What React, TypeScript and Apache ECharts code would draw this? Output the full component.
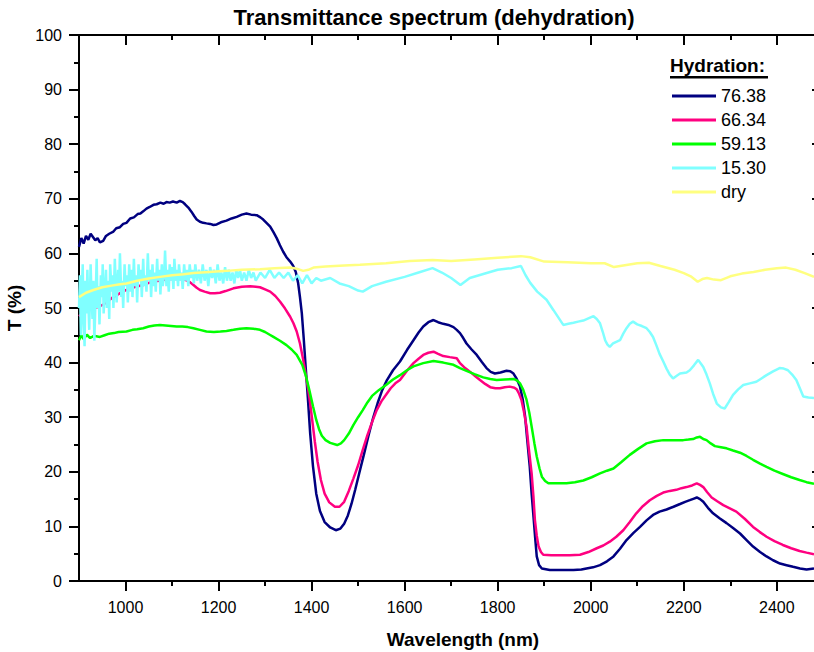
import React, { useEffect, useRef } from "react";
import * as echarts from "echarts";

const TITLE = "Transmittance spectrum (dehydration)";
const X_NAME = "Wavelength (nm)";
const Y_NAME = "T (%)";
const LEGEND_TITLE = "Hydration:";

const X_MIN = 900;
const X_MAX = 2480;
const X_MAJOR = [1000, 1200, 1400, 1600, 1800, 2000, 2200, 2400];
const X_MINOR = [1100, 1300, 1500, 1700, 1900, 2100, 2300];

const seriesNames = ["76.38", "66.34", "59.13", "15.30", "dry"];
const seriesColors = ["#000080", "#ff0080", "#00ff00", "#80ffff", "#ffff80"];

const hyd7638: [number, number][] = [
  [900, 61.2], [905, 62.8], [910, 61.8], [915, 63.2], [920, 62.5], [925, 63.6], [930, 63.0], [935, 62.4],
  [940, 62.8], [945, 62.0], [952, 62.3], [958, 63.2], [965, 63.6], [974, 64.0], [980, 64.6], [988, 64.8],
  [995, 65.4], [1002, 65.6], [1010, 66.4], [1018, 66.6], [1026, 67.2], [1032, 67.3], [1038, 67.7], [1045, 68.2],
  [1052, 68.5], [1060, 68.9], [1067, 69.0], [1075, 69.3], [1082, 69.1], [1088, 69.4], [1095, 69.3], [1102, 69.5],
  [1110, 69.3], [1117, 69.6], [1123, 69.4], [1128, 69.0], [1135, 68.4], [1142, 67.6], [1148, 66.8], [1153, 66.2],
  [1160, 65.8], [1167, 65.6], [1174, 65.5], [1182, 65.4], [1189, 65.2], [1196, 65.3], [1205, 65.7], [1217, 66.0],
  [1228, 66.4], [1239, 66.7], [1250, 67.1], [1260, 67.3], [1270, 67.1], [1282, 67.0], [1290, 66.6], [1296, 66.2],
  [1303, 65.6], [1311, 64.9], [1318, 63.9], [1325, 62.8], [1332, 61.5], [1339, 60.3], [1346, 59.3], [1354, 58.5],
  [1360, 57.8], [1366, 56.6], [1371, 54.6], [1375, 52.0], [1379, 49.0], [1383, 44.5], [1387, 39.5], [1392, 33.5],
  [1397, 27.0], [1403, 21.0], [1410, 16.0], [1418, 12.8], [1428, 10.8], [1440, 9.8], [1452, 9.3], [1462, 9.6],
  [1470, 10.5], [1478, 12.0], [1486, 14.2], [1494, 16.8], [1502, 19.6], [1512, 23.0], [1522, 26.5], [1532, 29.8],
  [1542, 32.6], [1552, 35.0], [1562, 36.8], [1575, 38.6], [1590, 40.2], [1605, 42.3], [1619, 44.1], [1630, 45.5],
  [1640, 46.6], [1651, 47.4], [1662, 47.8], [1672, 47.4], [1683, 47.1], [1694, 46.9], [1705, 46.5], [1712, 46.0],
  [1719, 45.4], [1726, 44.5], [1733, 43.5], [1744, 42.4], [1755, 41.4], [1766, 40.1], [1776, 39.0], [1785, 38.3],
  [1794, 38.0], [1806, 38.2], [1819, 38.5], [1827, 38.4], [1834, 38.0], [1841, 37.0], [1848, 35.6], [1854, 33.2],
  [1859, 30.1], [1864, 25.5], [1869, 20.9], [1873, 16.0], [1877, 11.8], [1881, 7.5], [1884, 4.5], [1889, 2.9],
  [1895, 2.3], [1912, 2.0], [1940, 2.0], [1963, 2.0], [1980, 2.1], [1991, 2.3], [2005, 2.5], [2020, 2.9],
  [2035, 3.6], [2049, 4.5], [2063, 5.9], [2077, 7.5], [2092, 8.8], [2106, 9.9], [2120, 11.1], [2134, 12.1],
  [2148, 12.7], [2163, 13.1], [2178, 13.6], [2192, 14.1], [2203, 14.5], [2213, 14.8], [2222, 15.1], [2228, 15.3],
  [2235, 15.0], [2242, 14.5], [2252, 13.4], [2263, 12.4], [2277, 11.5], [2292, 10.6], [2306, 9.7], [2321, 8.7],
  [2335, 7.5], [2349, 6.3], [2364, 5.3], [2378, 4.5], [2392, 3.8], [2407, 3.2], [2421, 2.9], [2435, 2.6],
  [2450, 2.3], [2464, 2.1], [2480, 2.3],
];

const hyd6634: [number, number][] = [
  [900, 48.5], [910, 49.2], [920, 49.6], [930, 50.0], [941, 50.2], [952, 50.6], [962, 51.3], [972, 51.9],
  [982, 52.4], [992, 52.9], [1002, 53.3], [1015, 53.7], [1026, 54.0], [1038, 54.2], [1050, 54.6], [1062, 54.9],
  [1074, 55.0], [1086, 55.2], [1098, 55.3], [1110, 55.3], [1120, 55.3], [1131, 55.1], [1139, 54.7], [1146, 54.2],
  [1153, 53.7], [1160, 53.3], [1170, 53.0], [1182, 52.7], [1192, 52.7], [1203, 52.8], [1215, 53.1], [1232, 53.6],
  [1250, 53.9], [1268, 54.0], [1280, 53.9], [1289, 53.8], [1300, 53.4], [1311, 53.0], [1322, 52.2], [1332, 51.2],
  [1343, 49.9], [1354, 48.4], [1361, 47.2], [1368, 45.7], [1375, 43.5], [1382, 40.5], [1387, 38.0], [1392, 35.5],
  [1397, 32.5], [1402, 29.0], [1407, 25.5], [1413, 21.8], [1420, 18.5], [1428, 16.0], [1438, 14.4], [1450, 13.6],
  [1460, 13.6], [1470, 14.5], [1480, 16.5], [1490, 18.8], [1500, 21.2], [1510, 24.0], [1520, 26.7], [1530, 29.1],
  [1540, 31.3], [1550, 32.9], [1560, 34.1], [1570, 35.3], [1580, 36.2], [1590, 36.8], [1605, 38.5], [1619, 39.9],
  [1630, 40.7], [1640, 41.4], [1651, 41.8], [1662, 42.0], [1672, 41.6], [1683, 41.2], [1697, 41.0], [1712, 40.8],
  [1719, 39.9], [1730, 39.0], [1741, 38.3], [1752, 37.5], [1762, 36.8], [1773, 36.1], [1784, 35.5], [1795, 35.3],
  [1805, 35.3], [1815, 35.5], [1826, 35.6], [1836, 35.4], [1841, 35.1], [1846, 34.3], [1851, 33.2], [1856, 31.2],
  [1862, 28.3], [1867, 24.2], [1873, 19.7], [1877, 15.3], [1880, 11.2], [1884, 8.3], [1888, 6.3], [1893, 5.3],
  [1898, 4.8], [1915, 4.7], [1934, 4.7], [1955, 4.7], [1977, 4.8], [1995, 5.3], [2013, 6.0], [2027, 6.5],
  [2041, 7.2], [2055, 8.1], [2070, 9.3], [2084, 10.8], [2098, 12.4], [2112, 13.7], [2127, 14.8], [2142, 15.6],
  [2156, 16.2], [2170, 16.5], [2184, 16.7], [2195, 17.0], [2206, 17.2], [2218, 17.5], [2228, 17.9], [2235, 17.6],
  [2242, 17.2], [2250, 16.3], [2260, 15.3], [2272, 14.6], [2285, 13.9], [2299, 13.3], [2313, 12.7], [2331, 11.4],
  [2349, 9.9], [2363, 9.0], [2378, 8.1], [2395, 7.3], [2413, 6.6], [2431, 6.0], [2449, 5.5], [2464, 5.2],
  [2480, 4.9],
];

const hyd5913: [number, number][] = [
  [900, 44.1], [905, 45.0], [910, 44.3], [917, 45.1], [924, 44.5], [932, 44.9], [945, 44.7], [955, 45.0],
  [965, 45.3], [975, 45.4], [985, 45.6], [1002, 45.7], [1015, 46.0], [1025, 46.1], [1038, 46.3], [1050, 46.6],
  [1062, 46.8], [1074, 46.9], [1086, 46.8], [1098, 46.7], [1110, 46.6], [1122, 46.6], [1134, 46.5], [1146, 46.3],
  [1160, 46.0], [1174, 45.7], [1190, 45.6], [1204, 45.7], [1217, 45.8], [1232, 46.0], [1246, 46.2], [1260, 46.3],
  [1275, 46.2], [1289, 46.0], [1300, 45.6], [1310, 45.1], [1318, 44.7], [1332, 44.0], [1346, 43.2], [1357, 42.4],
  [1368, 41.4], [1380, 39.6], [1388, 37.5], [1395, 35.0], [1403, 32.0], [1410, 29.5], [1416, 27.8], [1422, 26.6],
  [1430, 25.8], [1440, 25.3], [1455, 24.9], [1463, 25.2], [1470, 25.8], [1480, 27.0], [1490, 28.6], [1500, 30.0],
  [1510, 31.3], [1520, 32.7], [1530, 33.9], [1545, 35.0], [1560, 35.9], [1575, 36.9], [1590, 37.7], [1605, 38.6],
  [1619, 39.3], [1640, 39.9], [1662, 40.3], [1683, 40.0], [1705, 39.6], [1719, 39.0], [1733, 38.5], [1750, 37.9],
  [1769, 37.3], [1784, 37.0], [1798, 36.8], [1815, 36.9], [1834, 37.0], [1842, 36.7], [1848, 36.2], [1855, 35.0],
  [1862, 33.2], [1868, 30.8], [1873, 28.3], [1879, 25.2], [1884, 22.8], [1890, 20.6], [1895, 19.1], [1902, 18.3],
  [1909, 17.9], [1930, 17.9], [1948, 17.9], [1966, 18.1], [1984, 18.4], [2002, 19.0], [2020, 19.7], [2035, 20.2],
  [2049, 20.6], [2066, 21.8], [2084, 23.1], [2102, 24.2], [2120, 25.2], [2138, 25.6], [2156, 25.8], [2177, 25.8],
  [2199, 25.8], [2210, 25.9], [2220, 26.0], [2228, 26.3], [2235, 26.4], [2242, 26.0], [2249, 25.8], [2258, 25.2],
  [2267, 24.7], [2280, 24.5], [2292, 24.3], [2306, 23.9], [2321, 23.5], [2335, 22.9], [2349, 22.2], [2364, 21.5],
  [2378, 20.9], [2395, 20.2], [2413, 19.6], [2431, 19.0], [2449, 18.5], [2464, 18.1], [2480, 17.8],
];

const hyd1530: [number, number][] = [
  [900, 50], [902, 56], [904, 45], [906, 53], [908, 58], [910, 47], [912, 43], [914, 55], [916, 49], [918, 57],
  [920, 51], [922, 46], [925, 58], [927, 52], [929, 48], [931, 55], [933, 44], [936, 53], [938, 59], [940, 50],
  [942, 54], [944, 47], [947, 56], [949, 52], [951, 58], [953, 49], [956, 54], [958, 57], [960, 50], [963, 55],
  [965, 48], [967, 58], [970, 53], [972, 56], [974, 50], [977, 59], [979, 54], [981, 51], [984, 57], [986, 53],
  [988, 60], [991, 52], [993, 55], [995, 50], [998, 58], [1000, 54], [1003, 56], [1005, 51], [1008, 58], [1010, 53],
  [1013, 57], [1015, 52], [1018, 59], [1020, 54], [1023, 56], [1025, 51], [1028, 58], [1030, 55], [1033, 57], [1035, 52],
  [1038, 59], [1040, 54], [1043, 56], [1045, 53], [1048, 60], [1050, 55], [1053, 57], [1055, 52], [1058, 58], [1060, 54],
  [1063, 56.5], [1065, 53], [1068, 59], [1070, 55], [1073, 57], [1075, 52.5], [1078, 58], [1080, 54], [1083, 56], [1085, 60.5],
  [1088, 54], [1090, 57], [1093, 53], [1095, 58], [1098, 55], [1100, 57.5], [1103, 53.5], [1105, 59], [1108, 55], [1110, 57],
  [1113, 54], [1115, 58], [1118, 55], [1120, 56.5], [1123, 53.5], [1126, 58], [1129, 55], [1132, 57], [1135, 54], [1138, 58],
  [1141, 55.5], [1144, 57], [1147, 54.5], [1150, 58], [1154, 55], [1158, 57], [1162, 54.5], [1166, 58], [1170, 55], [1174, 57],
  [1178, 54], [1182, 57.5], [1186, 55.5], [1190, 57], [1194, 54.5], [1198, 58], [1202, 55], [1206, 56.5], [1210, 54.5], [1214, 57.5],
  [1218, 55], [1222, 57], [1226, 55], [1230, 56.5], [1234, 54.5], [1238, 57], [1242, 55.5], [1246, 57], [1250, 55], [1255, 56.5],
  [1260, 55], [1265, 57], [1270, 55.5], [1275, 56.5], [1280, 55], [1290, 56.5], [1300, 55.5], [1310, 57], [1320, 55.5], [1330, 56.5],
  [1340, 55.5], [1350, 56.5], [1360, 55], [1370, 56], [1380, 54.5], [1390, 56], [1400, 54.5], [1410, 55.5], [1420, 55], [1440, 55.5],
  [1460, 54.5], [1480, 54], [1500, 53.2], [1510, 53], [1530, 54], [1560, 54.8], [1600, 55.7], [1630, 56.5], [1660, 57.3], [1680, 56.5],
  [1700, 55.5], [1720, 54.2], [1740, 55.5], [1760, 56], [1780, 56.5], [1800, 57], [1830, 57.3], [1850, 57.7], [1860, 56], [1870, 54.6],
  [1885, 53], [1905, 51.5], [1920, 49.6], [1941, 46.9], [1952, 47.1], [1963, 47.3], [1973, 47.5], [1984, 47.7], [1995, 48.1], [2006, 48.5],
  [2013, 48.0], [2020, 47.2], [2026, 45.6], [2031, 44.1], [2036, 43.3], [2041, 42.9], [2048, 43.5], [2055, 43.8], [2063, 44.1], [2070, 45.3],
  [2077, 46.3], [2084, 47.1], [2091, 47.5], [2100, 47.0], [2110, 46.7], [2120, 46.3], [2127, 45.6], [2134, 44.7], [2141, 43.2], [2148, 41.6],
  [2156, 40.2], [2163, 38.9], [2170, 37.8], [2177, 37.1], [2185, 37.6], [2192, 38.0], [2199, 38.1], [2206, 38.2], [2213, 38.6], [2222, 39.5],
  [2231, 40.5], [2237, 39.8], [2242, 39.2], [2249, 37.8], [2256, 36.2], [2263, 34.3], [2271, 32.5], [2280, 31.8], [2288, 31.6], [2297, 32.8],
  [2306, 34.1], [2317, 35.1], [2328, 35.9], [2342, 36.2], [2356, 36.5], [2367, 37.1], [2378, 37.7], [2392, 38.4], [2406, 39.0], [2415, 38.9],
  [2424, 38.6], [2433, 37.8], [2442, 36.8], [2450, 35.2], [2457, 33.8], [2468, 33.6], [2480, 33.5],
];

const hydDry: [number, number][] = [
  [900, 52.0], [915, 52.8], [931, 53.3], [950, 53.8], [970, 54.1], [985, 54.3], [1002, 54.5], [1025, 55.0],
  [1050, 55.4], [1074, 55.7], [1100, 56.0], [1125, 56.2], [1146, 56.4], [1180, 56.6], [1217, 56.8], [1250, 57.0],
  [1289, 57.1], [1320, 57.3], [1354, 57.4], [1368, 57.2], [1382, 56.8], [1393, 57.0], [1404, 57.4], [1430, 57.6],
  [1470, 57.8], [1504, 57.9], [1560, 58.2], [1611, 58.6], [1660, 58.8], [1700, 58.6], [1750, 58.9], [1800, 59.2],
  [1850, 59.5], [1870, 59.3], [1900, 58.5], [1950, 58.4], [2000, 58.2], [2030, 58.2], [2050, 57.5], [2070, 57.8],
  [2100, 58.2], [2125, 58.3], [2150, 57.7], [2180, 57.0], [2200, 56.4], [2215, 55.8], [2230, 54.8], [2240, 55.3],
  [2250, 55.5], [2265, 55.2], [2280, 55.1], [2300, 55.8], [2325, 56.3], [2350, 56.6], [2375, 57.0], [2400, 57.3],
  [2420, 57.4], [2440, 57.0], [2460, 56.4], [2480, 55.7],
];

const seriesData = [hyd7638, hyd6634, hyd5913, hyd1530, hydDry];

const FONT = "'Liberation Sans', Arial, Helvetica, sans-serif";

export default function App() {
  const ref = useRef<HTMLDivElement>(null);

  useEffect(() => {
    if (!ref.current) return;
    const chart = echarts.init(ref.current, null, { renderer: "svg" });

    const baseX = {
      type: "value",
      min: X_MIN,
      max: X_MAX,
      splitLine: { show: false },
    };
    const plain = (v: number) => String(v);

    const option: any = {
      animation: false,
      backgroundColor: "#ffffff",
      textStyle: { fontFamily: FONT },
      title: {
        text: TITLE,
        left: 434,
        top: 6,
        padding: 0,
        textAlign: "center",
        textStyle: { fontFamily: FONT, fontSize: 22, fontWeight: "bold", color: "#000" },
      },
      legend: {
        orient: "vertical",
        left: 672,
        top: 86,
        padding: 0,
        icon: "rect",
        itemWidth: 44,
        itemHeight: 3,
        itemGap: 4,
        data: seriesNames,
        textStyle: { fontFamily: FONT, fontSize: 18, lineHeight: 20, color: "#000" },
      },
      graphic: [
        {
          type: "text",
          left: 670,
          top: 56,
          style: { text: LEGEND_TITLE, font: `bold 19px ${FONT}`, fill: "#000" },
        },
        {
          type: "rect",
          left: 670,
          top: 76,
          shape: { width: 98, height: 2.5 },
          style: { fill: "#000" },
        },
      ],
      grid: {
        left: 79,
        right: 0,
        top: 35,
        bottom: 71,
        containLabel: false,
        outerBoundsMode: "none",
      },
      xAxis: [
        {
          ...baseX,
          position: "bottom",
          name: X_NAME,
          nameLocation: "middle",
          nameGap: 49,
          nameTextStyle: { fontFamily: FONT, fontSize: 19, fontWeight: "bold", color: "#000", padding: [0, 0, 0, 33] },
          axisLine: { show: true, onZero: false, lineStyle: { color: "#000", width: 2 } },
          axisTick: { show: true, inside: false, length: 10, lineStyle: { color: "#000", width: 2 }, customValues: X_MAJOR },
          axisLabel: { show: true, margin: 18, fontFamily: FONT, fontSize: 16, color: "#000", customValues: X_MAJOR, formatter: plain },
        },
        {
          ...baseX,
          position: "bottom",
          axisLine: { show: false, onZero: false },
          axisTick: { show: true, inside: false, length: 5, lineStyle: { color: "#000", width: 2 }, customValues: X_MINOR },
          axisLabel: { show: false },
        },
        {
          ...baseX,
          position: "top",
          axisLine: { show: true, onZero: false, lineStyle: { color: "#000", width: 2 } },
          axisTick: { show: true, inside: true, length: 10, lineStyle: { color: "#000", width: 2 }, customValues: X_MAJOR },
          axisLabel: { show: false },
        },
        {
          ...baseX,
          position: "top",
          axisLine: { show: false, onZero: false },
          axisTick: { show: true, inside: true, length: 5, lineStyle: { color: "#000", width: 2 }, customValues: X_MINOR },
          axisLabel: { show: false },
        },
      ],
      yAxis: [
        {
          type: "value",
          position: "left",
          min: 0,
          max: 100,
          interval: 10,
          name: Y_NAME,
          nameLocation: "middle",
          nameGap: 52,
          nameTextStyle: { fontFamily: FONT, fontSize: 19, fontWeight: "bold", color: "#000" },
          axisLine: { show: true, onZero: false, lineStyle: { color: "#000", width: 2 } },
          axisTick: { show: true, inside: false, length: 10, lineStyle: { color: "#000", width: 2 } },
          minorTick: { show: true, splitNumber: 2, length: 5, lineStyle: { color: "#000", width: 2 } },
          axisLabel: { show: true, margin: 17, fontFamily: FONT, fontSize: 16, color: "#000", formatter: plain },
          splitLine: { show: false },
        },
        {
          type: "value",
          position: "right",
          min: 0,
          max: 100,
          interval: 10,
          axisLine: { show: false, onZero: false },
          axisTick: { show: true, inside: true, length: 2, lineStyle: { color: "#000", width: 2 } },
          axisLabel: { show: false },
          splitLine: { show: false },
        },
      ],
      series: seriesNames.map((name, i) => ({
        name,
        type: "line",
        xAxisIndex: 0,
        yAxisIndex: 0,
        data: seriesData[i],
        symbol: "none",
        showSymbol: false,
        clip: true,
        lineStyle: { color: seriesColors[i], width: 2.5 },
        itemStyle: { color: seriesColors[i] },
        emphasis: { disabled: true },
      })),
    };

    chart.setOption(option);
    return () => chart.dispose();
  }, []);

  return (
    <div
      ref={ref}
      style={{ position: "absolute", left: 0, top: 0, width: 814, height: 652, background: "#fff" }}
    />
  );
}
